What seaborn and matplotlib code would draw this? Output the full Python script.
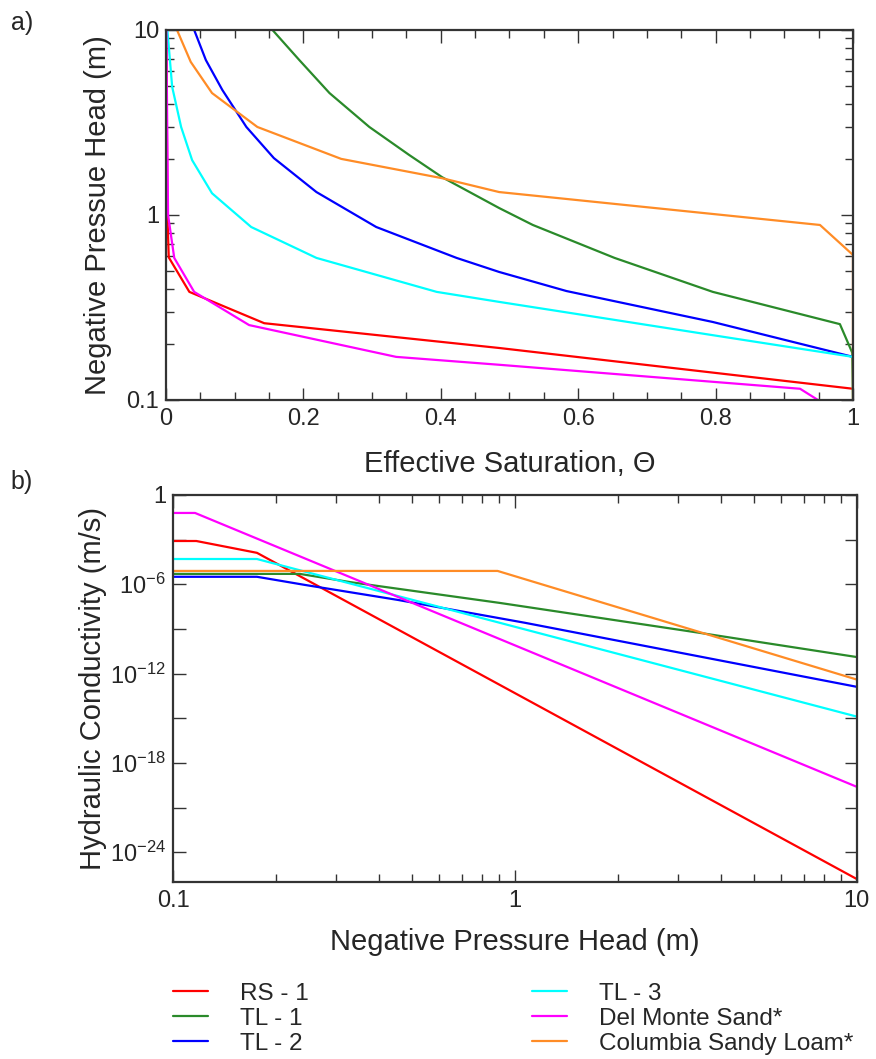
import numpy as np
import pandas as pd
import matplotlib
matplotlib.use("Agg")
import matplotlib.pyplot as plt
import matplotlib.ticker as mticker
import seaborn as sns

sns.set_theme(style="ticks")
plt.rcParams['font.family'] = ['Liberation Sans', 'DejaVu Sans']
plt.rcParams['mathtext.default'] = 'regular'
plt.rcParams['axes.unicode_minus'] = True

# ---- series names and colours ----
names = ['RS - 1', 'TL - 1', 'TL - 2', 'TL - 3', 'Del Monte Sand*', 'Columbia Sandy Loam*']
colors = ['#ff0000', '#2a8a2a', '#0000ff', '#00ffff', '#ff00ff', '#ff8c26']

# ---- a) retention curves: effective saturation vs negative pressure head ----
se_rs1 = [0.0005, 0.002, 0.004, 0.034, 0.143, 0.485, 1.0]
h_rs1 = [10, 1.0, 0.59, 0.384, 0.26, 0.191, 0.115]
se_tl1 = [0.155, 0.194, 0.238, 0.296, 0.354, 0.402, 0.485, 0.534, 0.653, 0.796, 0.981, 0.999, 1.0]
h_tl1 = [10, 6.88, 4.56, 2.99, 2.11, 1.60, 1.09, 0.883, 0.586, 0.384, 0.257, 0.18, 0.1]
se_tl2 = [0.041, 0.058, 0.082, 0.117, 0.157, 0.219, 0.306, 0.423, 0.485, 0.583, 0.796, 1.0]
h_tl2 = [10, 6.88, 4.74, 2.99, 2.03, 1.33, 0.861, 0.586, 0.492, 0.388, 0.264, 0.171]
se_tl3 = [0.002, 0.009, 0.022, 0.038, 0.067, 0.124, 0.219, 0.394, 0.485, 0.796, 1.0]
h_tl3 = [10, 4.92, 2.99, 1.98, 1.31, 0.861, 0.586, 0.384, 0.339, 0.224, 0.171]
se_dms = [0.0005, 0.003, 0.012, 0.041, 0.121, 0.335, 0.485, 0.923, 0.949]
h_dms = [10, 1.0, 0.586, 0.384, 0.254, 0.171, 0.155, 0.115, 0.1]
se_csl = [0.016, 0.036, 0.067, 0.133, 0.255, 0.402, 0.485, 0.952, 1.0, 1.0]
h_csl = [10, 6.72, 4.56, 2.99, 2.01, 1.58, 1.33, 0.883, 0.608, 0.1]

# ---- b) conductivity curves: negative pressure head vs K ----
hk_rs1 = [0.1, 0.117, 0.176, 10]
k_rs1 = [8.1e-4, 8.1e-4, 1.3e-4, 1.6e-26]
hk_tl1 = [0.1, 0.235, 0.33, 0.904, 3.47, 10]
k_tl1 = [5.0e-6, 5.0e-6, 1.4e-6, 5.6e-8, 5.5e-10, 1.3e-11]
hk_tl2 = [0.1, 0.176, 0.243, 0.455, 1.07, 10]
k_tl2 = [3.2e-6, 3.2e-6, 9.1e-7, 8.9e-8, 2.6e-9, 1.3e-13]
hk_tl3 = [0.1, 0.176, 10]
k_tl3 = [5.0e-5, 5.0e-5, 1.3e-15]
hk_dms = [0.1, 0.116, 0.18, 10]
k_dms = [6.2e-2, 6.2e-2, 9.5e-4, 2.5e-20]
hk_csl = [0.1, 0.89, 10]
k_csl = [7.9e-6, 7.9e-6, 4.0e-13]


def long_df(xs, ys, xname, yname):
    rows = []
    for n, x, y in zip(names, xs, ys):
        for i, (a, b) in enumerate(zip(x, y)):
            rows.append({'Soil': n, 'order': i, xname: a, yname: b})
    return pd.DataFrame(rows)


df_a = long_df([se_rs1, se_tl1, se_tl2, se_tl3, se_dms, se_csl],
               [h_rs1, h_tl1, h_tl2, h_tl3, h_dms, h_csl], 'Se', 'h')
df_b = long_df([hk_rs1, hk_tl1, hk_tl2, hk_tl3, hk_dms, hk_csl],
               [k_rs1, k_tl1, k_tl2, k_tl3, k_dms, k_csl], 'h', 'K')
palette = dict(zip(names, colors))

fig = plt.figure(figsize=(8.76, 10.59), dpi=100)
ax1 = fig.add_axes([0.1895, 0.6223, 0.7842, 0.3494])
ax2 = fig.add_axes([0.1975, 0.1671, 0.7805, 0.3655])

sns.lineplot(data=df_a, x='Se', y='h', hue='Soil', palette=palette, sort=False,
             estimator=None, units='Soil', lw=1.6, legend=False, ax=ax1)
sns.lineplot(data=df_b, x='h', y='K', hue='Soil', palette=palette, sort=False,
             estimator=None, units='Soil', lw=1.6, legend=False, ax=ax2)

tick_fs = 17
lab_fs = 21

# panel a axes
ax1.set_yscale('log')
ax1.set_xlim(0, 1)
ax1.set_ylim(0.1, 10)
ax1.xaxis.set_major_locator(mticker.MultipleLocator(0.2))
ax1.xaxis.set_minor_locator(mticker.MultipleLocator(0.05))
ax1.xaxis.set_major_formatter(mticker.FuncFormatter(lambda v, p: f'{v:g}'))
ax1.yaxis.set_major_locator(mticker.FixedLocator([0.1, 1, 10]))
ax1.yaxis.set_major_formatter(mticker.FixedFormatter(['0.1', '1', '10']))
ax1.yaxis.set_minor_locator(mticker.LogLocator(subs=np.arange(2, 10)))
ax1.yaxis.set_minor_formatter(mticker.NullFormatter())
ax1.set_xlabel('Effective Saturation, Θ', fontsize=lab_fs, labelpad=14)
ax1.set_ylabel('Negative Pressue Head (m)', fontsize=lab_fs, labelpad=10)

# panel b axes
ax2.set_xscale('log')
ax2.set_yscale('log')
ax2.set_xlim(0.1, 10)
ax2.set_ylim(1e-26, 1)
ax2.xaxis.set_major_locator(mticker.FixedLocator([0.1, 1, 10]))
ax2.xaxis.set_major_formatter(mticker.FixedFormatter(['0.1', '1', '10']))
ax2.xaxis.set_minor_locator(mticker.LogLocator(subs=np.arange(2, 10)))
ax2.xaxis.set_minor_formatter(mticker.NullFormatter())
kticks = [10.0 ** (-e) for e in range(0, 27, 3)]
klabels = ['1' if e == 0 else (rf'$10^{{-{e}}}$' if e % 6 == 0 else '') for e in range(0, 27, 3)]
ax2.yaxis.set_major_locator(mticker.FixedLocator(kticks))
ax2.yaxis.set_major_formatter(mticker.FixedFormatter(klabels))
ax2.yaxis.set_minor_locator(mticker.NullLocator())
ax2.set_xlabel('Negative Pressure Head (m)', fontsize=lab_fs, labelpad=11)
ax2.set_ylabel('Hydraulic Conductivity (m/s)', fontsize=lab_fs, labelpad=2)

for ax in (ax1, ax2):
    ax.tick_params(which='both', direction='in', top=True, right=True,
                   color='#333333', width=1.0, labelsize=tick_fs)
    ax.tick_params(axis='x', which='both', pad=6)
    ax.tick_params(axis='y', which='both', pad=5)
    ax.tick_params(which='major', length=9)
    ax.tick_params(which='minor', length=6)
    for s in ax.spines.values():
        s.set_linewidth(1.6)
        s.set_color('#333333')

fig.text(0.012, 0.990, 'a)', fontsize=18, va='top')
fig.text(0.012, 0.556, 'b)', fontsize=18, va='top')

handles = [plt.Line2D([], [], color=c, lw=1.6) for c in colors]
fig.legend(handles, names, loc='upper left', bbox_to_anchor=(0.1975, 0.0722),
           ncol=2, frameon=False, fontsize=17.5, handlelength=1.45,
           handletextpad=1.3, labelspacing=0.13, columnspacing=9.2,
           borderaxespad=0, borderpad=0)

fig.savefig('out.png', dpi=100)
